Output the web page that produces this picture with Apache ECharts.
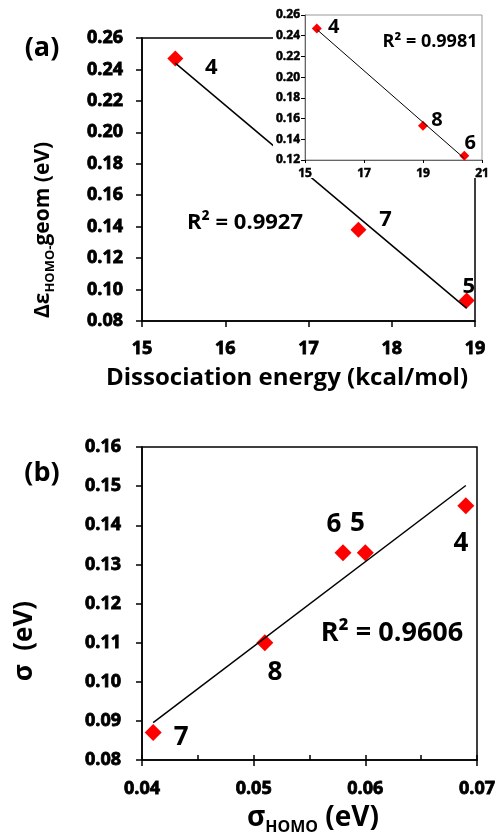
<!DOCTYPE html>
<html>
<head>
<meta charset="utf-8">
<script src="https://cdn.jsdelivr.net/npm/echarts@6/dist/echarts.min.js"></script>
<style>
  html, body { margin: 0; padding: 0; background: #fff; }
  #chart { width: 498px; height: 835px; }
</style>
</head>
<body>
<div id="chart"></div>
<script>
// panel (a): dissociation energy vs Δε(HOMO-geom)
const aEnergy = [15.4, 17.6, 18.9];
const aDelta = [0.247, 0.138, 0.093];
const aNames = ['4', '7', '5'];
// inset of panel (a)
const insetEnergy = [15.4, 19.0, 20.4];
const insetDelta = [0.247, 0.153, 0.124];
const insetNames = ['4', '8', '6'];
// panel (b): σHOMO vs σ
const bSigmaHomo = [0.041, 0.051, 0.058, 0.060, 0.069];
const bSigma = [0.087, 0.110, 0.133, 0.133, 0.145];
const bNames = ['7', '8', '6', '5', '4'];
const r2Labels = ['R² = 0.9927', 'R² = 0.9981', 'R² = 0.9606'];

const FONT = 'Open Sans';

// where each point number sits relative to its marker (px)
const offA = { 4: [36, 9], 7: [27, -10], 5: [2, -14] };
const offInset = { 4: [17, -1], 8: [14, -6], 6: [6, -13] };
const offB = { 7: [28, 5], 8: [10, 30], 6: [-9, -28], 5: [-8, -29], 4: [-5, 38] };

// least squares line between the smallest and largest x
function trend(xs, ys) {
  const n = xs.length;
  const mx = xs.reduce((s, v) => s + v, 0) / n;
  const my = ys.reduce((s, v) => s + v, 0) / n;
  let sxy = 0, sxx = 0;
  xs.forEach((x, i) => { sxy += (x - mx) * (ys[i] - my); sxx += (x - mx) * (x - mx); });
  const k = sxy / sxx;
  const x0 = Math.min(...xs), x1 = Math.max(...xs);
  return [[x0, my + k * (x0 - mx)], [x1, my + k * (x1 - mx)]];
}

function points(xs, ys, names, off) {
  return xs.map((x, i) => ({
    value: [x, ys[i]],
    name: names[i],
    label: { offset: off[names[i]] },
  }));
}

function axis(gridIndex, min, max, interval, o) {
  const size = o.fontSize || 18;
  return {
    type: 'value', gridIndex, min, max, interval,
    axisLine: { show: true, onZero: false, lineStyle: { color: o.lineColor || '#000', width: o.lineWidth || 1.5 } },
    axisTick: { show: true, inside: false, length: o.tick || 6, lineStyle: { color: '#000', width: o.lineWidth || 1.5 } },
    splitLine: { show: false },
    axisLabel: {
      color: '#000', fontWeight: 'bold', fontFamily: FONT, fontSize: size,
      // labels come out thin, thicken them a bit
      textBorderColor: '#000', textBorderWidth: size > 14 ? 0.8 : 0.5,
      margin: o.margin || 18,
      formatter: o.fmt || (v => String(v)),
    },
    z: o.z || 0,
  };
}

const fix2 = v => v.toFixed(2);

function label(size) {
  return {
    show: true, position: 'inside', formatter: '{b}',
    color: '#000', fontWeight: 'bold', fontFamily: FONT, fontSize: size,
    textBorderWidth: 0,
  };
}

function text(x, y, str, size, extra) {
  return Object.assign({
    type: 'text', x, y, z: 100,
    style: {
      text: str, fill: '#000', font: `bold ${size}px "${FONT}"`,
      align: 'center', verticalAlign: 'middle',
    },
  }, extra || {});
}

function subTitle(x, y, str, big, small, rotate) {
  return {
    type: 'text', x, y, rotation: rotate ? Math.PI / 2 : 0, z: 100,
    style: {
      text: str, align: 'center', verticalAlign: 'middle',
      rich: {
        a: { fontSize: big, fontWeight: 'bold', fontFamily: FONT, fill: '#000', lineHeight: big + 6 },
        s: { fontSize: small, fontWeight: 'bold', fontFamily: FONT, fill: '#000', verticalAlign: 'bottom', lineHeight: small },
      },
    },
  };
}

const red = { color: '#ff0000', opacity: 1 };

const chart = echarts.init(document.getElementById('chart'), null, { renderer: 'canvas' });
chart.setOption({
  animation: false,
  backgroundColor: '#fff',
  textStyle: { fontFamily: FONT, fontWeight: 'bold' },
  grid: [
    { left: 142, top: 38, width: 333, height: 283, show: true, borderColor: '#000', borderWidth: 1.5, outerBoundsMode: 'none' },
    { left: 305, top: 15, width: 177, height: 145, show: true, borderColor: '#999', borderWidth: 1, backgroundColor: '#fff', z: 55, outerBoundsMode: 'none' },
    { left: 142, top: 447, width: 335, height: 313, show: true, borderColor: '#000', borderWidth: 1.5, outerBoundsMode: 'none' },
  ],
  xAxis: [
    axis(0, 15, 19, 1, { margin: 19 }),
    axis(1, 15, 21, 2, { fontSize: 12, margin: 8, tick: 3, lineWidth: 1, lineColor: '#666', z: 60 }),
    axis(2, 0.04, 0.07, 0.01, { margin: 20, fmt: fix2 }),
    {
      type: 'value', gridIndex: 2, min: 0.04, max: 0.07, interval: 0.005, position: 'bottom',
      axisLine: { show: false }, axisLabel: { show: false }, splitLine: { show: false },
      axisTick: { show: true, inside: true, length: 5, lineStyle: { color: '#000', width: 1.5 } },
    },
  ],
  yAxis: [
    axis(0, 0.08, 0.26, 0.02, { margin: 19, fmt: fix2 }),
    axis(1, 0.12, 0.26, 0.02, { fontSize: 12, margin: 5, tick: 4, lineWidth: 1, lineColor: '#666', fmt: fix2, z: 60 }),
    axis(2, 0.08, 0.16, 0.01, { margin: 21, fmt: fix2 }),
  ],
  graphic: [
    // white box behind the inset
    { type: 'rect', z: 50, shape: { x: 273, y: 0, width: 225, height: 178 }, style: { fill: '#fff' } },
    text(42, 48, '(a)', 27),
    text(42, 473, '(b)', 27),
    text(287, 378, 'Dissociation energy (kcal/mol)', 24),
    subTitle(43, 230, '{a|Δε}{s|HOMO-}{a|geom (eV)}', 21, 13, true),
    text(25, 641, 'σ  (eV)', 26, { rotation: Math.PI / 2 }),
    subTitle(313, 818, '{a|σ}{s|HOMO}{a| (eV)}', 28, 16, false),
    text(245, 223, r2Labels[0], 22),
    text(430, 42, r2Labels[1], 18),
    text(392, 633, r2Labels[2], 27),
  ],
  series: [
    {
      type: 'scatter', xAxisIndex: 0, yAxisIndex: 0, symbol: 'diamond', symbolSize: 16,
      itemStyle: red, label: label(22), z: 2,
      data: points(aEnergy, aDelta, aNames, offA),
    },
    {
      type: 'line', xAxisIndex: 0, yAxisIndex: 0, symbol: 'none', z: 3,
      lineStyle: { color: '#000', width: 1.5 }, data: trend(aEnergy, aDelta),
    },
    {
      type: 'scatter', xAxisIndex: 1, yAxisIndex: 1, symbol: 'diamond', symbolSize: 10,
      itemStyle: red, label: label(20), z: 70,
      data: points(insetEnergy, insetDelta, insetNames, offInset),
    },
    {
      type: 'line', xAxisIndex: 1, yAxisIndex: 1, symbol: 'none', z: 71,
      lineStyle: { color: '#000', width: 1 }, data: trend(insetEnergy, insetDelta),
    },
    {
      type: 'scatter', xAxisIndex: 2, yAxisIndex: 2, symbol: 'diamond', symbolSize: 17,
      itemStyle: red, label: label(26), z: 2,
      data: points(bSigmaHomo, bSigma, bNames, offB),
    },
    {
      type: 'line', xAxisIndex: 2, yAxisIndex: 2, symbol: 'none', z: 3,
      lineStyle: { color: '#000', width: 1.5 }, data: trend(bSigmaHomo, bSigma),
    },
  ],
});
</script>
</body>
</html>
